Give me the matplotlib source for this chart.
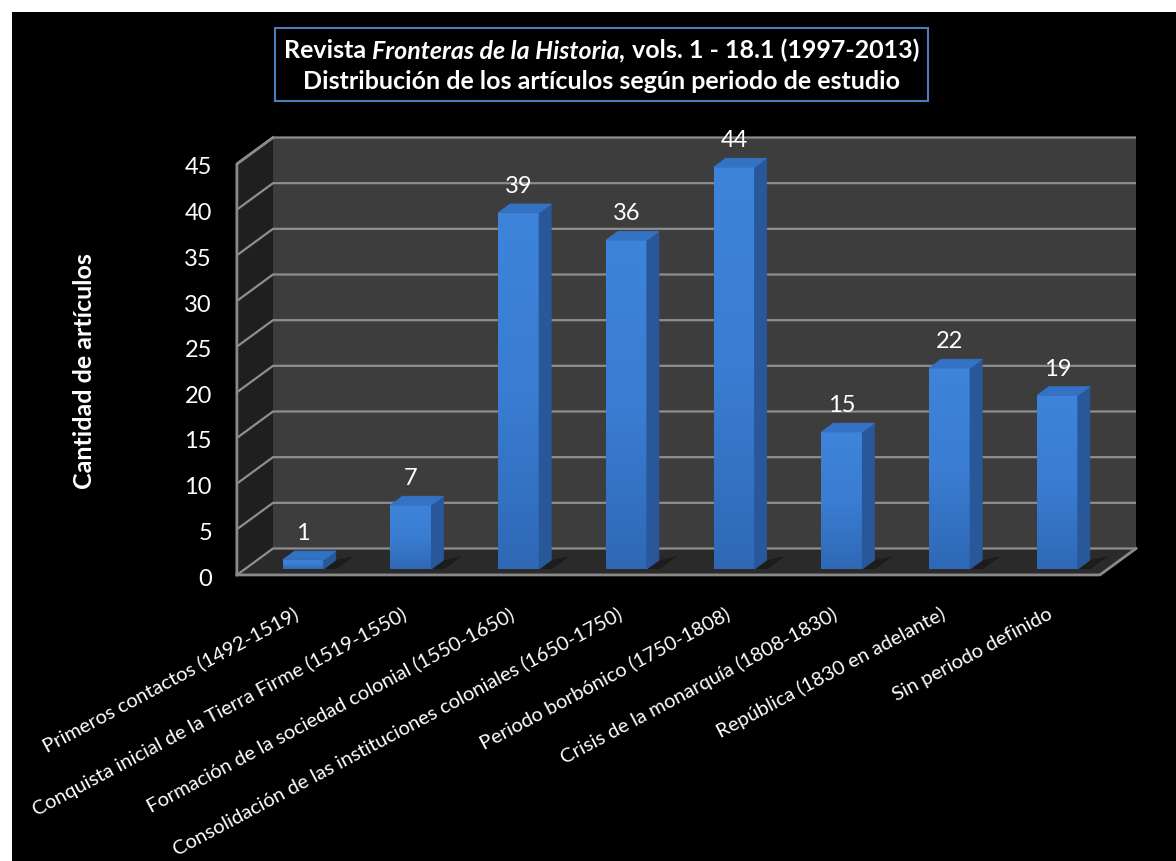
import matplotlib
matplotlib.use("Agg")
import matplotlib.pyplot as plt
import numpy as np
from matplotlib.patches import Rectangle, Polygon
from matplotlib.colors import LinearSegmentedColormap
from matplotlib.transforms import offset_copy

# data
categorias = [
    "Primeros contactos (1492-1519)",
    "Conquista inicial de la Tierra Firme (1519-1550)",
    "Formación de la sociedad colonial (1550-1650)",
    "Consolidación de las instituciones coloniales (1650-1750)",
    "Periodo borbónico (1750-1808)",
    "Crisis de la monarquía (1808-1830)",
    "República (1830 en adelante)",
    "Sin periodo definido",
]
articulos = [1, 7, 39, 36, 44, 15, 22, 19]
yticks = [0, 5, 10, 15, 20, 25, 30, 35, 40, 45]

plt.rcParams['font.family'] = ['Lato', 'DejaVu Sans']

W, H = 1176, 861
fig = plt.figure(figsize=(W / 100, H / 100), dpi=100, facecolor='white')
fig.add_artist(Rectangle((12 / W, 0), 1, (H - 12) / H, transform=fig.transFigure,
                         facecolor='black', edgecolor='none', zorder=-5))

# axes = plane of the bar fronts
ax = fig.add_axes([245 / W, (H - 569) / H, 863 / W, 411 / H])
ax.axis('off')

# fake depth: one unit of z = 28 px right, 20.5 px up
DX = 28 / (863 / 8.01)
DY = 20.5 / (411 / 45)
ZF, ZB = -0.29, 1.0
BD = 0.43       # bar depth
BW = 0.38       # bar width
xl, xr = -0.54, 7.47
ytop = yticks[-1]


def P(x, y, z):
    return (x + z * DX, y + z * DY)


# walls
ax.add_patch(Polygon([P(xl, 0, ZB), P(xr, 0, ZB), P(xr, ytop, ZB), P(xl, ytop, ZB)],
                     facecolor='#3d3d3d', edgecolor='none', clip_on=False, zorder=1))
ax.add_patch(Polygon([P(xl, 0, ZF), P(xl, 0, ZB), P(xl, ytop, ZB), P(xl, ytop, ZF)],
                     facecolor='#1f1f1f', edgecolor='none', clip_on=False, zorder=1))
ax.add_patch(Polygon([P(xl, 0, ZF), P(xr, 0, ZF), P(xr, 0, ZB), P(xl, 0, ZB)],
                     facecolor='#2a2a2a', edgecolor='none', clip_on=False, zorder=1))

# gridlines on side and back wall
for v in yticks:
    pts = [P(xl, v, ZF), P(xl, v, ZB), P(xr, v, ZB)]
    ax.plot([p[0] for p in pts], [p[1] for p in pts], color='#8e8e8e', lw=1.6,
            clip_on=False, zorder=2, solid_capstyle='butt')

# frame edges
edges = [
    [P(xl, 0, ZF), P(xl, ytop, ZF), P(xl, ytop, ZB)],
    [P(xl, 0, ZF), P(xr, 0, ZF), P(xr, 0, ZB)],
]
for pts in edges:
    ax.plot([p[0] for p in pts], [p[1] for p in pts], color='#8a8a8a', lw=2,
            clip_on=False, zorder=3)

# bars
grad = LinearSegmentedColormap.from_list('bar', ['#2f69b6', '#3a7dd2', '#3d84da'])
gimg = np.linspace(0, 1, 64).reshape(-1, 1)
for i, v in enumerate(articulos):
    x1 = i + BW / 2
    x0 = i - BW / 2
    # shadow on the floor
    ax.add_patch(Polygon([P(x1, 0, 0), P(x1 + 0.12, 0, 0), P(x1 + 0.12, 0, BD + 0.2), P(x1, 0, BD)],
                         facecolor='#1c1c1c', edgecolor='none', zorder=4, clip_on=False))
    bar = ax.bar(i, v, width=BW, color='#3470c0', edgecolor='#3470c0', lw=0.5, zorder=5)[0]
    im = ax.imshow(gimg, cmap=grad, origin='lower', extent=(x0, x1, 0, v),
                   aspect='auto', zorder=5.1, interpolation='bilinear')
    im.set_clip_path(bar)
    ax.add_patch(Polygon([P(x1, 0, 0), P(x1, 0, BD), P(x1, v, BD), P(x1, v, 0)],
                         facecolor='#28579a', edgecolor='#28579a', lw=0.6,
                         zorder=5.2, clip_on=False))
    ax.add_patch(Polygon([P(x0, v, 0), P(x1, v, 0), P(x1, v, BD), P(x0, v, BD)],
                         facecolor='#3472c4', edgecolor='#3472c4', lw=0.6,
                         zorder=5.3, clip_on=False))
    ax.annotate(str(v), xy=(i, v), xytext=(0, 19), textcoords='offset points',
                ha='center', va='center', color='white', fontsize=17, zorder=6,
                annotation_clip=False)

ax.set_xlim(xl, xr)
ax.set_ylim(0, ytop)

# category labels
trx = offset_copy(ax.transData, fig=fig, x=-10, y=-36, units='dots')
for i, lab in enumerate(categorias):
    ax.text(i, 0, lab, transform=trx, rotation=28, rotation_mode='anchor',
            ha='right', va='top', color='white', fontsize=14.5, clip_on=False)

# value axis labels
try_ = offset_copy(ax.transData, fig=fig, x=-33, y=-10, units='dots')
for v in yticks:
    ax.text(xl, v, str(v), transform=try_, ha='right', va='center',
            color='white', fontsize=17, clip_on=False)

fig.text(84 / W, 1 - 371 / H, 'Cantidad de artículos', rotation=90, ha='center',
         va='center', fontweight='bold', fontsize=18, color='white')

# title box
fig.add_artist(Rectangle((275 / W, 1 - 101 / H), 653 / W, 73 / H, transform=fig.transFigure,
                         facecolor='black', edgecolor='#4a7ebb', lw=1.5, zorder=2))
cx = 601.5
tsize = 18
y1 = 1 - 58 / H
pieces = [("Revista", 'normal'), ("Fronteras de la Historia,", 'italic'),
          ("vols. 1 - 18.1 (1997-2013)", 'normal')]
renderer = fig.canvas.get_renderer()
objs = []
for txt, st in pieces:
    t = fig.text(0, y1, txt, fontsize=tsize, fontweight='bold', style=st,
                 color='white', va='baseline', ha='left', zorder=3)
    objs.append(t)
probe1 = fig.text(0, 0, "R R", fontsize=tsize, fontweight='bold')
probe2 = fig.text(0, 0, "RR", fontsize=tsize, fontweight='bold')
sp = probe1.get_window_extent(renderer).width - probe2.get_window_extent(renderer).width
probe1.remove()
probe2.remove()
widths = [t.get_window_extent(renderer).width for t in objs]
total = sum(widths) + sp * (len(objs) - 1)
x = cx - total / 2
for t, w in zip(objs, widths):
    t.set_x(x / W)
    x += w + sp
fig.text(cx / W, 1 - 89 / H, "Distribución de los artículos según periodo de estudio",
         fontsize=tsize, fontweight='bold', color='white', ha='center', va='baseline', zorder=3)

fig.savefig('out.png', dpi=100, facecolor='white')
